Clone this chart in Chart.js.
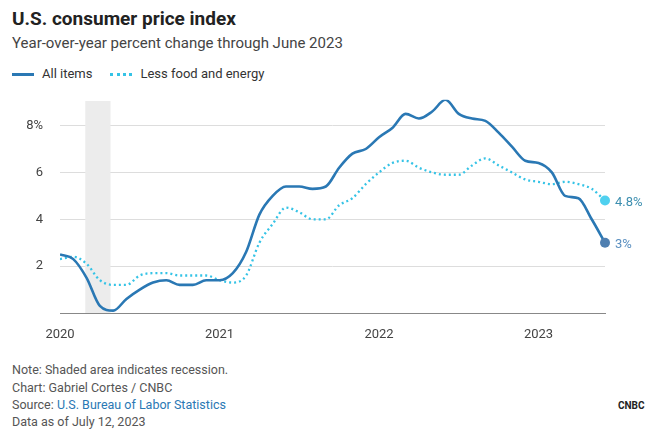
<!DOCTYPE html>
<html><head><meta charset="utf-8">
<script src="https://cdn.jsdelivr.net/npm/chart.js@4"></script>
<style>
body{margin:0;width:659px;height:436px;background:#fff;font-family:Roboto,"Noto Sans",sans-serif;position:relative;overflow:hidden}
.t{position:absolute;left:12px;white-space:nowrap}
#title{top:7px;font-size:19px;font-weight:bold;color:#222}
#sub{top:34px;font-size:15px;color:#444}
#leg{top:66px;font-size:13px;color:#333}
.foot{font-size:12.5px;color:#555}
#cv{position:absolute;left:0;top:75px;width:659px;height:265px}
</style></head><body>
<div class="t" id="title">U.S. consumer price index</div>
<div class="t" id="sub">Year-over-year percent change through June 2023</div>
<div class="t" id="leg"><span style="display:inline-block;width:22px;border-top:3px solid #2a78b4;vertical-align:middle;margin-right:8px"></span>All items<span style="display:inline-block;width:22px;border-top:3px dotted #35c3e6;vertical-align:middle;margin:0 8px 0 18px"></span>Less food and energy</div>
<div class="t foot" style="top:362px">Note: Shaded area indicates recession.</div>
<div class="t foot" style="top:380px">Chart: Gabriel Cortes / CNBC</div>
<div class="t foot" style="top:397px">Source: <span style="color:#2a78b4">U.S. Bureau of Labor Statistics</span></div>
<div class="t foot" style="top:414px">Data as of July 12, 2023</div>
<div class="t" style="left:618px;top:400px;font-size:10px;font-weight:bold;color:#222">CNBC</div>
<div id="cv"><canvas id="c"></canvas></div>
<script>
const allItems=[2.5,2.3,1.5,0.3,0.1,0.6,1.0,1.3,1.4,1.2,1.2,1.4,
1.4,1.7,2.6,4.2,5.0,5.4,5.4,5.3,5.4,6.2,6.8,7.0,
7.5,7.9,8.5,8.3,8.6,9.1,8.5,8.3,8.2,7.7,7.1,6.5,
6.4,6.0,5.0,4.9,4.0,3.0];
const core=[2.3,2.4,2.1,1.4,1.2,1.2,1.6,1.7,1.7,1.6,1.6,1.6,
1.4,1.3,1.6,3.0,3.8,4.5,4.3,4.0,4.0,4.6,4.9,5.5,
6.0,6.4,6.5,6.2,6.0,5.9,5.9,6.3,6.6,6.3,6.0,5.7,
5.6,5.5,5.6,5.5,5.3,4.8];
const yearTicks={0:'2020',12:'2021',24:'2022',36:'2023'};
const recession=[1.9,3.8];
const endLabels=['3%','4.8%'];
const pts=a=>a.map((v,i)=>({x:i,y:v}));
const shade={id:'shade',beforeDatasetsDraw(ch){const{ctx,scales:{x,y}}=ch;ctx.save();ctx.fillStyle='#ececec';
const x0=x.getPixelForValue(recession[0]),x1=x.getPixelForValue(recession[1]);const t=y.getPixelForValue(9.05),b=y.getPixelForValue(0);ctx.fillRect(x0,t,x1-x0,b-t);ctx.restore();}};
const ends={id:'ends',afterDatasetsDraw(ch){const{ctx}=ch;ctx.save();ctx.font='13px Roboto';ctx.textBaseline='middle';
[[0,'#2a78b4','#5a8fc0'],[1,'#35c3e6','#3d8fb0']].forEach(([d,c,tc])=>{const m=ch.getDatasetMeta(d).data;const p=m[m.length-1];
ctx.beginPath();ctx.arc(p.x,p.y,5,0,7);ctx.fillStyle=d?'#4fd0ef':'#4f7fb0';ctx.fill();ctx.fillStyle=tc;ctx.fillText(endLabels[d],p.x+10,p.y+2);});ctx.restore();}};
new Chart(document.getElementById('c'),{type:'line',
data:{datasets:[{data:pts(allItems),borderColor:'#2a78b4',borderWidth:2.6,pointRadius:0,tension:0.4,cubicInterpolationMode:'monotone'},
{data:pts(core),borderColor:'#35c3e6',borderWidth:2.3,borderDash:[2,3],pointRadius:0,tension:0.4,cubicInterpolationMode:'monotone'}]},
options:{responsive:true,maintainAspectRatio:false,animation:false,
layout:{padding:{left:0,right:54,top:0,bottom:0}},
plugins:{legend:{display:false},tooltip:{enabled:false}},
scales:{x:{type:'linear',min:0,max:41,afterFit(a){a.height=27},
 afterBuildTicks(a){a.ticks=Object.keys(yearTicks).map(v=>({value:+v}))},
 ticks:{callback:v=>yearTicks[v]||'',color:'#444',font:{size:13,family:'Roboto'},maxRotation:0,padding:6},
 grid:{display:false},border:{display:true,color:'#888'}},
 y:{min:0,max:9.1,afterFit(a){a.width=60},
 afterBuildTicks(a){a.ticks=[2,4,6,8].map(v=>({value:v}))},
 ticks:{callback:v=>v===8?'8%':String(v),color:'#444',font:{size:13,family:'Roboto'},padding:17},
 grid:{color:'#dddddd',drawTicks:false},border:{display:false}}}},
plugins:[shade,ends]});
</script></body></html>
